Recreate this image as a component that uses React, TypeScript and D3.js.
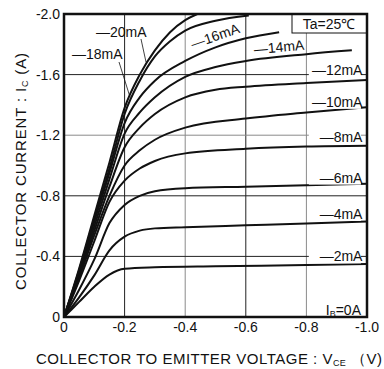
import React from "react";
import * as d3 from "d3";

const W = 384;
const H = 369;

// Vce (V, magnitude) vs Ic (A, magnitude) for each base current
const ib2: [number, number][] = [[0,0],[0.05,0.1],[0.1,0.2],[0.15,0.28],[0.2,0.318],[0.3,0.328],[0.5,0.335],[0.8,0.343],[1.0,0.35]];
const ib4: [number, number][] = [[0,0],[0.05,0.13],[0.1,0.275],[0.15,0.44],[0.2,0.53],[0.25,0.57],[0.3,0.585],[0.4,0.593],[0.6,0.605],[0.8,0.617],[1.0,0.63]];
const ib6: [number, number][] = [[0,0],[0.05,0.18],[0.1,0.38],[0.15,0.62],[0.2,0.74],[0.25,0.8],[0.3,0.83],[0.4,0.85],[0.6,0.86],[0.8,0.87],[1.0,0.88]];
const ib8: [number, number][] = [[0,0],[0.05,0.24],[0.1,0.5],[0.15,0.76],[0.2,0.9],[0.25,0.98],[0.3,1.03],[0.4,1.08],[0.6,1.11],[0.8,1.125],[1.0,1.13]];
const ib10: [number, number][] = [[0,0],[0.05,0.26],[0.1,0.54],[0.15,0.8],[0.2,1.0],[0.25,1.1],[0.3,1.17],[0.4,1.25],[0.6,1.31],[0.8,1.35],[1.0,1.385]];
const ib12: [number, number][] = [[0,0],[0.05,0.28],[0.1,0.57],[0.15,0.86],[0.2,1.12],[0.25,1.25],[0.3,1.34],[0.4,1.45],[0.5,1.5],[0.6,1.52],[0.8,1.545],[1.0,1.565]];
const ib14: [number, number][] = [[0,0],[0.05,0.29],[0.1,0.6],[0.15,0.91],[0.2,1.21],[0.25,1.35],[0.3,1.45],[0.4,1.585],[0.5,1.65],[0.6,1.69],[0.8,1.735],[0.95,1.76]];
const ib16: [number, number][] = [[0,0],[0.05,0.3],[0.1,0.63],[0.15,0.95],[0.2,1.28],[0.25,1.45],[0.3,1.56],[0.4,1.69],[0.5,1.78],[0.6,1.84],[0.71,1.88]];
const ib18: [number, number][] = [[0,0],[0.05,0.31],[0.1,0.65],[0.15,0.98],[0.2,1.34],[0.25,1.56],[0.3,1.72],[0.35,1.82],[0.4,1.89],[0.5,1.955],[0.61,1.99]];
const ib20: [number, number][] = [[0,0],[0.05,0.32],[0.1,0.67],[0.15,1.02],[0.2,1.38],[0.25,1.6],[0.3,1.76],[0.35,1.88],[0.4,1.96],[0.44,2.0]];

const series = [ib2, ib4, ib6, ib8, ib10, ib12, ib14, ib16, ib18, ib20];

const xTicks = [0, 0.2, 0.4, 0.6, 0.8, 1.0];
const xTickLabels = ["0", "-0.2", "-0.4", "-0.6", "-0.8", "-1.0"];
const yTicks = [0, 0.4, 0.8, 1.2, 1.6, 2.0];
const yTickLabels = ["0", "-0.4", "-0.8", "-1.2", "-1.6", "-2.0"];

const vGrid = [0.2, 0.4, 0.6, 0.8];
const vGridDark = [true, false, true, false];
const hGrid = [0.4, 0.8, 1.2, 1.6];
const hGridDark = [true, true, false, true];

// right-side labels: text, y value (A)
const rightLabels = ["—12mA", "—10mA", "—8mA", "—6mA", "—4mA", "—2mA"];
const rightLabelI = [1.63, 1.42, 1.19, 0.92, 0.68, 0.4];

const FONT = "'Liberation Sans', Arial, Helvetica, sans-serif";

export default function App() {
  const x = d3.scaleLinear().domain([0, 1]).range([64, 367]);
  const y = d3.scaleLinear().domain([0, 2]).range([317, 14]);
  const line = d3
    .line<[number, number]>()
    .x((d) => x(d[0]))
    .y((d) => y(d[1]))
    .curve(d3.curveMonotoneX);

  return (
    <svg
      width={W}
      height={H}
      style={{ position: "absolute", left: 0, top: 0, background: "#fff" }}
      fontFamily={FONT}
    >
      <rect x={0} y={0} width={W} height={H} fill="#fff" />
      <defs>
        <clipPath id="plot">
          <rect x={x(0)} y={y(2)} width={x(1) - x(0)} height={y(0) - y(2)} />
        </clipPath>
      </defs>
      {/* grid */}
      {vGrid.map((v, i) => (
        <line key={"v" + i} x1={x(v)} x2={x(v)} y1={y(0)} y2={y(2)}
          stroke={vGridDark[i] ? "#222" : "#8a8a8a"} strokeWidth={1} />
      ))}
      {hGrid.map((v, i) => (
        <line key={"h" + i} x1={x(0)} x2={x(1)} y1={y(v)} y2={y(v)}
          stroke={hGridDark[i] ? "#222" : "#8a8a8a"} strokeWidth={1} />
      ))}
      {/* curves */}
      <g clipPath="url(#plot)">
        {series.map((s, i) => (
          <path key={i} d={line(s) || ""} fill="none" stroke="#111" strokeWidth={2} />
        ))}
      </g>
      {/* right labels */}
      {rightLabels.map((t, i) => (
        <g key={t}>
          <rect x={x(0.808)} y={y(rightLabelI[i]) - 8} width={x(0.98) - x(0.808)} height={15} fill="#fff" />
          <text x={x(0.985)} y={y(rightLabelI[i]) + 5} textAnchor="end" fontSize={14} fill="#111">{t}</text>
        </g>
      ))}
      {/* top-left labels */}
      <text x={96} y={37} fontSize={14} fill="#111">—20mA</text>
      <line x1={141} y1={39} x2={146} y2={62} stroke="#111" strokeWidth={0.8} />
      <text x={72} y={59} fontSize={14} fill="#111">—18mA</text>
      <line x1={119} y1={62} x2={130} y2={97} stroke="#111" strokeWidth={0.8} />
      <text x={215} y={36} fontSize={14} fill="#111" textAnchor="middle" dominantBaseline="central"
        transform="rotate(-19 215 36)">—16mA</text>
      <text x={279} y={47} fontSize={14} fill="#111" textAnchor="middle" dominantBaseline="central"
        transform="rotate(-5 279 47)">—14mA</text>
      {/* Ta box */}
      <rect x={292} y={14} width={75} height={19} fill="#fff" stroke="#111" strokeWidth={1} />
      <text x={329} y={28.5} fontSize={14} textAnchor="middle" fill="#111">Ta=25℃</text>
      {/* IB = 0 */}
      <text x={361} y={315} fontSize={14} textAnchor="end" fill="#111">
        I<tspan fontSize={9} dy={2}>B</tspan><tspan dy={-2}>=0A</tspan>
      </text>
      {/* frame */}
      <rect x={x(0)} y={y(2)} width={x(1) - x(0)} height={y(0) - y(2)} fill="none" stroke="#111" strokeWidth={2.5} />
      {/* ticks */}
      {xTicks.map((v, i) => (
        <text key={"xt" + i} x={x(v)} y={332} fontSize={14} textAnchor="middle" fill="#111">{xTickLabels[i]}</text>
      ))}
      {yTicks.map((v, i) => (
        <text key={"yt" + i} x={60} y={y(v) + 5} fontSize={14} textAnchor="end" fill="#111">{yTickLabels[i]}</text>
      ))}
      {/* axis titles */}
      <text x={36} y={364} fontSize={15} fill="#111" textLength={346} lengthAdjust="spacing">
        COLLECTOR TO EMITTER VOLTAGE : V<tspan fontSize={9} dy={2}>CE</tspan><tspan dy={-2}> （V)</tspan>
      </text>
      <text transform="translate(26 290) rotate(-90)" x={0} y={0} fontSize={15} fill="#111" textLength={237} lengthAdjust="spacing">
        COLLECTOR CURRENT : I<tspan fontSize={9} dy={2}>C</tspan><tspan dy={-2}> (A)</tspan>
      </text>
    </svg>
  );
}
